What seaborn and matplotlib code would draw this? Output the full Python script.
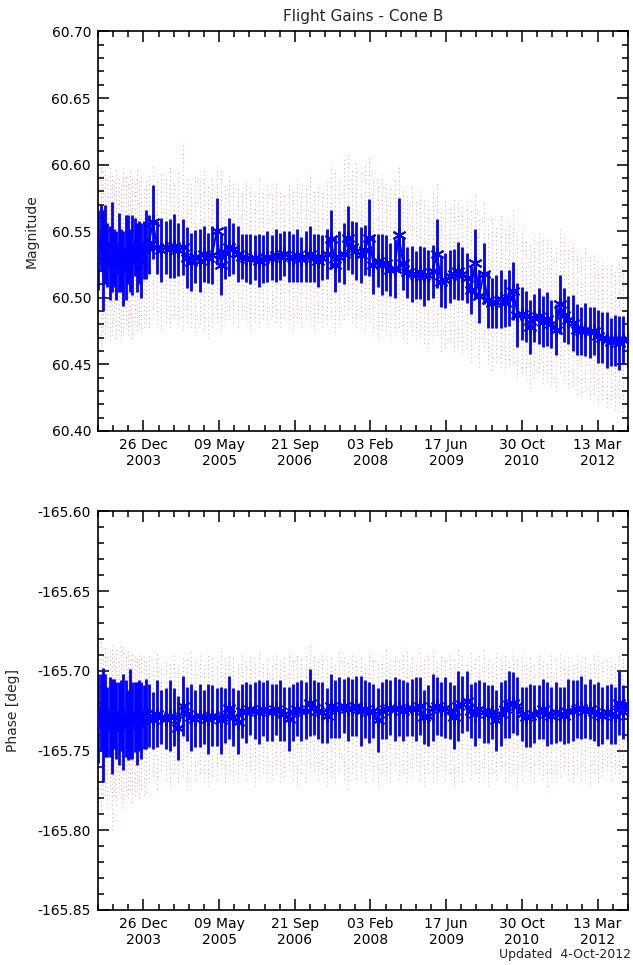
import numpy as np
import pandas as pd
import matplotlib
matplotlib.use('Agg')
import matplotlib.pyplot as plt
from matplotlib.ticker import MultipleLocator
import matplotlib.dates as mdates
import seaborn as sns

# epochs: ~fortnightly during the first year, then every 28 days
early_dates = pd.date_range('2003-03-03', periods=22, freq='15D')
late_dates = pd.date_range('2004-01-30', periods=114, freq='28D')

# magnitude (first 22 = early epochs)
mag = [60.536, 60.545, 60.528, 60.540, 60.532, 60.526, 60.538, 60.530, 60.524, 60.534, 60.528,
       60.522, 60.530, 60.536, 60.528, 60.532, 60.538, 60.530, 60.534, 60.528, 60.536, 60.540,
       60.540, 60.557, 60.538, 60.536, 60.538, 60.537, 60.539, 60.536, 60.538, 60.530,
       60.527, 60.531, 60.528, 60.533, 60.530, 60.532, 60.550, 60.525, 60.534, 60.538,
       60.537, 60.533, 60.531, 60.530, 60.529, 60.530, 60.528, 60.529, 60.531, 60.530,
       60.532, 60.531, 60.533, 60.531, 60.530, 60.532, 60.529, 60.531, 60.533, 60.530,
       60.528, 60.530, 60.533, 60.544, 60.525, 60.531, 60.533, 60.545, 60.538, 60.535,
       60.532, 60.536, 60.545, 60.525, 60.528, 60.525, 60.526, 60.521, 60.522, 60.547,
       60.526, 60.519, 60.518, 60.517, 60.519, 60.516, 60.517, 60.520, 60.533, 60.512,
       60.513, 60.516, 60.518, 60.520, 60.518, 60.515, 60.506, 60.526, 60.501, 60.518,
       60.498, 60.496, 60.497, 60.499, 60.496, 60.500, 60.505, 60.487, 60.488, 60.486,
       60.478, 60.485, 60.486, 60.482, 60.484, 60.480, 60.476, 60.495, 60.487, 60.483,
       60.481, 60.476, 60.475, 60.476, 60.474, 60.475, 60.471, 60.470, 60.468, 60.467,
       60.468, 60.466, 60.468, 60.469]
mag_err = [0.030, 0.025, 0.038, 0.030, 0.024, 0.028, 0.034, 0.022, 0.026, 0.030, 0.024,
           0.028, 0.032, 0.026, 0.024, 0.030, 0.022, 0.026, 0.024, 0.028, 0.022, 0.026,
           0.022, 0.028, 0.020, 0.024, 0.020, 0.022, 0.024, 0.020, 0.021, 0.023,
           0.022, 0.020, 0.024, 0.021, 0.019, 0.022, 0.025, 0.023, 0.020, 0.022,
           0.019, 0.021, 0.017, 0.018, 0.019, 0.017, 0.020, 0.018, 0.019, 0.017,
           0.020, 0.018, 0.017, 0.019, 0.018, 0.020, 0.017, 0.019, 0.021, 0.018,
           0.020, 0.017, 0.019, 0.022, 0.021, 0.019, 0.023, 0.024, 0.020, 0.022,
           0.021, 0.019, 0.029, 0.022, 0.020, 0.023, 0.021, 0.020, 0.022, 0.028,
           0.020, 0.019, 0.021, 0.018, 0.020, 0.022, 0.019, 0.020, 0.026, 0.019,
           0.021, 0.020, 0.019, 0.022, 0.020, 0.019, 0.018, 0.026, 0.020, 0.023,
           0.021, 0.019, 0.020, 0.022, 0.018, 0.021, 0.022, 0.024, 0.020, 0.019,
           0.020, 0.018, 0.021, 0.019, 0.020, 0.018, 0.019, 0.022, 0.020, 0.018,
           0.021, 0.019, 0.018, 0.020, 0.019, 0.018, 0.020, 0.019, 0.021, 0.018,
           0.019, 0.020, 0.018, 0.021]
# spread of the individual (red) magnitude samples at each epoch
mag_red_hi = [60.590, 60.600, 60.595, 60.598, 60.590, 60.600, 60.592, 60.588, 60.596, 60.590, 60.585,
              60.598, 60.592, 60.588, 60.595, 60.590, 60.586, 60.596, 60.588, 60.592, 60.585, 60.590,
              60.592, 60.598, 60.588, 60.594, 60.590, 60.600, 60.588, 60.594, 60.615, 60.590,
              60.586, 60.592, 60.588, 60.596, 60.584, 60.590, 60.598, 60.592, 60.586, 60.594,
              60.588, 60.585, 60.580, 60.588, 60.584, 60.578, 60.590, 60.582, 60.586, 60.580,
              60.588, 60.582, 60.578, 60.586, 60.580, 60.590, 60.582, 60.585, 60.594, 60.580,
              60.584, 60.580, 60.588, 60.600, 60.596, 60.590, 60.605, 60.608, 60.598, 60.602,
              60.595, 60.600, 60.606, 60.590, 60.586, 60.592, 60.588, 60.584, 60.590, 60.598,
              60.582, 60.578, 60.584, 60.575, 60.580, 60.576, 60.574, 60.580, 60.586, 60.570,
              60.574, 60.570, 60.576, 60.572, 60.568, 60.574, 60.566, 60.578, 60.560, 60.572,
              60.556, 60.560, 60.554, 60.562, 60.552, 60.558, 60.565, 60.548, 60.552, 60.545,
              60.540, 60.548, 60.550, 60.544, 60.546, 60.540, 60.538, 60.552, 60.546, 60.540,
              60.542, 60.536, 60.532, 60.538, 60.530, 60.534, 60.528, 60.530, 60.524, 60.526,
              60.522, 60.528, 60.520, 60.524]
mag_red_lo = [60.470, 60.465, 60.475, 60.470, 60.478, 60.468, 60.472, 60.480, 60.470, 60.476, 60.468,
              60.474, 60.480, 60.472, 60.478, 60.470, 60.482, 60.476, 60.480, 60.474, 60.478, 60.480,
              60.478, 60.485, 60.480, 60.476, 60.482, 60.478, 60.484, 60.480, 60.476, 60.482,
              60.478, 60.474, 60.480, 60.476, 60.470, 60.478, 60.482, 60.476, 60.480, 60.484,
              60.482, 60.478, 60.484, 60.480, 60.476, 60.482, 60.478, 60.484, 60.480, 60.486,
              60.482, 60.478, 60.485, 60.480, 60.476, 60.482, 60.478, 60.484, 60.480, 60.476,
              60.482, 60.478, 60.480, 60.486, 60.474, 60.480, 60.484, 60.488, 60.482, 60.478,
              60.480, 60.476, 60.482, 60.474, 60.470, 60.476, 60.472, 60.468, 60.474, 60.478,
              60.470, 60.466, 60.472, 60.468, 60.470, 60.466, 60.462, 60.468, 60.472, 60.460,
              60.462, 60.466, 60.460, 60.464, 60.458, 60.462, 60.452, 60.466, 60.448, 60.460,
              60.450, 60.446, 60.452, 60.448, 60.444, 60.450, 60.452, 60.440, 60.444, 60.438,
              60.432, 60.440, 60.444, 60.436, 60.440, 60.434, 60.430, 60.444, 60.438, 60.432,
              60.434, 60.428, 60.426, 60.430, 60.424, 60.428, 60.420, 60.424, 60.418, 60.420,
              60.416, 60.422, 60.414, 60.418]

# phase [deg]
phase = [-165.730, -165.726, -165.734, -165.728, -165.732, -165.729, -165.735, -165.727, -165.731, -165.733, -165.728,
         -165.732, -165.730, -165.734, -165.727, -165.731, -165.729, -165.733, -165.728, -165.731, -165.729, -165.727,
         -165.728, -165.731, -165.727, -165.729, -165.730, -165.728, -165.729, -165.736, -165.722, -165.727,
         -165.729, -165.730, -165.728, -165.729, -165.730, -165.728, -165.729, -165.731, -165.728, -165.723,
         -165.729, -165.732, -165.725, -165.726, -165.724, -165.725, -165.726, -165.724, -165.725, -165.726,
         -165.724, -165.725, -165.727, -165.730, -165.726, -165.724, -165.725, -165.725, -165.720, -165.723,
         -165.725, -165.726, -165.728, -165.722, -165.724, -165.723, -165.722, -165.724, -165.723, -165.722,
         -165.725, -165.724, -165.726, -165.725, -165.731, -165.725, -165.724, -165.723, -165.724, -165.723,
         -165.725, -165.724, -165.723, -165.724, -165.722, -165.729, -165.728, -165.723, -165.722, -165.724,
         -165.723, -165.725, -165.729, -165.722, -165.721, -165.719, -165.725, -165.727, -165.724, -165.726,
         -165.727, -165.726, -165.731, -165.727, -165.724, -165.721, -165.720, -165.722, -165.727, -165.729,
         -165.728, -165.727, -165.726, -165.724, -165.727, -165.728, -165.726, -165.727, -165.728, -165.725,
         -165.725, -165.724, -165.723, -165.725, -165.724, -165.726, -165.727, -165.728, -165.726, -165.727,
         -165.728, -165.720, -165.726, -165.722]
phase_err = [0.028, 0.024, 0.036, 0.026, 0.022, 0.025, 0.030, 0.022, 0.024, 0.026, 0.022,
             0.030, 0.024, 0.022, 0.028, 0.024, 0.022, 0.026, 0.022, 0.024, 0.020, 0.022,
             0.020, 0.018, 0.021, 0.017, 0.019, 0.022, 0.018, 0.020, 0.019, 0.017,
             0.021, 0.018, 0.020, 0.017, 0.022, 0.019, 0.018, 0.021, 0.017, 0.020,
             0.018, 0.020, 0.017, 0.019, 0.016, 0.018, 0.020, 0.017, 0.019, 0.018,
             0.016, 0.019, 0.017, 0.020, 0.018, 0.017, 0.019, 0.018, 0.021, 0.017,
             0.018, 0.019, 0.017, 0.020, 0.018, 0.019, 0.017, 0.020, 0.018, 0.019,
             0.022, 0.018, 0.019, 0.017, 0.020, 0.018, 0.019, 0.017, 0.020, 0.018,
             0.019, 0.017, 0.018, 0.020, 0.018, 0.017, 0.019, 0.021, 0.018, 0.017,
             0.019, 0.018, 0.020, 0.022, 0.018, 0.019, 0.017, 0.020, 0.018, 0.019,
             0.018, 0.017, 0.019, 0.020, 0.018, 0.021, 0.019, 0.018, 0.017, 0.019,
             0.020, 0.018, 0.017, 0.019, 0.020, 0.018, 0.019, 0.017, 0.018, 0.020,
             0.019, 0.018, 0.020, 0.017, 0.019, 0.018, 0.020, 0.018, 0.017, 0.019,
             0.018, 0.020, 0.017, 0.022]
phase_red_hi = [-165.685, -165.680, -165.688, -165.684, -165.690, -165.686, -165.682, -165.690, -165.686, -165.692, -165.684,
                -165.688, -165.690, -165.686, -165.692, -165.688, -165.690, -165.694, -165.688, -165.692, -165.690, -165.694,
                -165.690, -165.695, -165.688, -165.698, -165.692, -165.694, -165.688, -165.696, -165.690, -165.693,
                -165.686, -165.694, -165.690, -165.696, -165.688, -165.692, -165.694, -165.686, -165.695, -165.690,
                -165.692, -165.696, -165.688, -165.693, -165.690, -165.695, -165.689, -165.694, -165.691, -165.696,
                -165.688, -165.693, -165.690, -165.686, -165.694, -165.690, -165.692, -165.688, -165.684, -165.690,
                -165.694, -165.688, -165.692, -165.690, -165.696, -165.686, -165.690, -165.693, -165.688, -165.692,
                -165.690, -165.694, -165.688, -165.692, -165.696, -165.690, -165.686, -165.692, -165.689, -165.694,
                -165.690, -165.686, -165.692, -165.695, -165.688, -165.692, -165.690, -165.686, -165.693, -165.690,
                -165.694, -165.688, -165.692, -165.686, -165.690, -165.694, -165.688, -165.692, -165.690, -165.686,
                -165.692, -165.696, -165.688, -165.692, -165.690, -165.694, -165.686, -165.692, -165.689, -165.694,
                -165.690, -165.694, -165.688, -165.692, -165.696, -165.690, -165.693, -165.688, -165.692, -165.690,
                -165.694, -165.688, -165.692, -165.690, -165.696, -165.690, -165.688, -165.694, -165.692, -165.690,
                -165.694, -165.688, -165.692, -165.690]
phase_red_lo = [-165.785, -165.790, -165.780, -165.778, -165.786, -165.775, -165.800, -165.778, -165.784, -165.776, -165.782,
                -165.786, -165.778, -165.780, -165.775, -165.782, -165.778, -165.776, -165.780, -165.774, -165.778, -165.776,
                -165.770, -165.766, -165.774, -165.762, -165.768, -165.772, -165.764, -165.770, -165.766, -165.775,
                -165.762, -165.768, -165.764, -165.770, -165.772, -165.766, -165.768, -165.764, -165.770, -165.762,
                -165.766, -165.770, -165.764, -165.768, -165.762, -165.772, -165.766, -165.764, -165.770, -165.768,
                -165.764, -165.770, -165.766, -165.762, -165.768, -165.772, -165.764, -165.770, -165.766, -165.762,
                -165.768, -165.764, -165.772, -165.766, -165.770, -165.762, -165.768, -165.774, -165.764, -165.768,
                -165.766, -165.770, -165.762, -165.768, -165.772, -165.764, -165.766, -165.770, -165.762, -165.768,
                -165.764, -165.770, -165.766, -165.762, -165.768, -165.772, -165.764, -165.770, -165.766, -165.762,
                -165.768, -165.764, -165.772, -165.766, -165.770, -165.762, -165.768, -165.764, -165.770, -165.766,
                -165.772, -165.764, -165.768, -165.762, -165.770, -165.766, -165.764, -165.772, -165.768, -165.762,
                -165.766, -165.770, -165.764, -165.768, -165.772, -165.764, -165.770, -165.766, -165.762, -165.768,
                -165.770, -165.764, -165.768, -165.766, -165.772, -165.764, -165.770, -165.766, -165.762, -165.768,
                -165.764, -165.770, -165.766, -165.768]

tick_dates = ['2003-12-26', '2005-05-09', '2006-09-21', '2008-02-03',
              '2009-06-17', '2010-10-30', '2012-03-13']

df = pd.DataFrame({'date': early_dates.append(late_dates),
                   'mag': mag, 'mag_err': mag_err, 'mag_hi': mag_red_hi, 'mag_lo': mag_red_lo,
                   'phase': phase, 'phase_err': phase_err, 'phase_hi': phase_red_hi, 'phase_lo': phase_red_lo})

sns.set_style('ticks')
plt.rcParams['font.family'] = ['DejaVu Sans']

fig = plt.figure(figsize=(6.33, 9.65), dpi=100)
ax1 = fig.add_axes([0.1548, 0.5534, 0.8373, 0.4140])
ax2 = fig.add_axes([0.1548, 0.0570, 0.8373, 0.4130])

xticks = pd.to_datetime(tick_dates)
x0 = pd.Timestamp('2003-03-01')
x1 = pd.Timestamp('2012-09-30')
minor_off = mdates.date2num(xticks[0]) % 100


def draw(ax, col, lim):
    # individual samples as dotted red columns
    ax.vlines(df['date'], df[col + '_lo'], df[col + '_hi'], colors='#ff2020',
              linestyles=(0, (0.8, 3.5)), linewidth=0.7, alpha=0.55, zorder=1)
    ax.vlines(df['date'], df[col] - df[col + '_err'], df[col] + df[col + '_err'],
              colors='blue', linewidth=2.0, zorder=2)
    sns.lineplot(data=df, x='date', y=col, ax=ax, estimator=None, color='blue',
                 linewidth=1.3, marker=(6, 2, 0), markersize=10,
                 markeredgecolor='blue', markeredgewidth=1.4, zorder=3)
    ax.set_xlim(x0, x1)
    ax.set_ylim(*lim)
    ax.set_xticks(xticks)
    ax.set_xticklabels([d.strftime('%d %b\n%Y') for d in xticks])
    ax.xaxis.set_minor_locator(MultipleLocator(100, offset=minor_off))
    ax.yaxis.set_major_locator(MultipleLocator(0.05))
    ax.yaxis.set_minor_locator(MultipleLocator(0.01))
    ax.yaxis.set_major_formatter(plt.FormatStrFormatter('%.2f'))
    ax.tick_params(which='both', direction='in', top=True, right=True,
                   width=1.1, labelsize=10, colors='black')
    ax.tick_params(which='major', length=8, pad=5)
    ax.tick_params(which='minor', length=4)
    ax.set_xlabel('')
    for s in ax.spines.values():
        s.set_linewidth(1.2)
        s.set_color('black')


draw(ax1, 'mag', (60.40, 60.70))
draw(ax2, 'phase', (-165.85, -165.60))

ax1.set_ylabel('Magnitude', fontsize=10)
ax1.yaxis.set_label_coords(-0.112, 0.5)
ax2.set_ylabel('Phase [deg]', fontsize=10)
ax2.yaxis.set_label_coords(-0.148, 0.5)

fig.text(0.573, 0.983, 'Flight Gains - Cone B', ha='center', va='center', fontsize=11)
fig.text(0.997, 0.004, 'Updated  4-Oct-2012', ha='right', va='bottom', fontsize=9)

fig.savefig('out.png', dpi=100, facecolor='white')
